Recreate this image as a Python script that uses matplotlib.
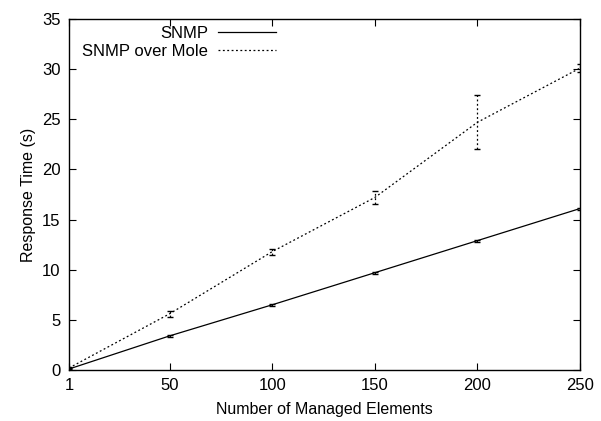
import matplotlib
matplotlib.use("Agg")
import matplotlib.pyplot as plt

plt.rcParams['font.family'] = ['Liberation Sans', 'DejaVu Sans']

x = [1, 50, 100, 150, 200, 250]
snmp = [0.1, 3.4, 6.5, 9.7, 12.9, 16.1]
snmp_err = [0.1, 0.1, 0.1, 0.1, 0.1, 0.1]
mole = [0.2, 5.6, 11.8, 17.2, 24.7, 30.1]
mole_err = [0.1, 0.3, 0.3, 0.6, 2.7, 0.4]
xticks = [1, 50, 100, 150, 200, 250]
yticks = [0, 5, 10, 15, 20, 25, 30, 35]

fig = plt.figure(figsize=(6.01, 4.21), dpi=100)
ax = fig.add_axes([69/601, 51/421, 511/601, 351/421])

ax.errorbar(x, snmp, yerr=snmp_err, color='black', lw=0.9, capsize=2,
            elinewidth=0.8, label='SNMP')
eb = ax.errorbar(x, mole, yerr=mole_err, color='black', lw=0.9, ls=(0, (1.5, 2)),
                 capsize=2, elinewidth=0.9, label='SNMP over Mole')
for lc in eb[2]:
    lc.set_linestyle((0, (1.5, 2)))
ax.set_xlim(1, 250)
ax.set_ylim(0, 35)
ax.set_xticks(xticks)
ax.set_yticks(yticks)
ax.tick_params(direction='in', top=True, right=True, labelsize=12, length=5, pad=6)
ax.set_xlabel('Number of Managed Elements', fontsize=11.5, labelpad=6)
ax.set_ylabel('Response Time (s)', fontsize=11.5)
for s in ax.spines.values():
    s.set_linewidth(1.0)

handles, labels = ax.get_legend_handles_labels()
handles = [h[0] for h in handles]
leg = ax.legend(handles, labels, loc='upper right', bbox_to_anchor=(0.43, 1.015),
                frameon=False, markerfirst=False, fontsize=12,
                handlelength=3.5, borderpad=0.25, labelspacing=0.15,
                handletextpad=0.6)

fig.savefig('out.png', dpi=100)
